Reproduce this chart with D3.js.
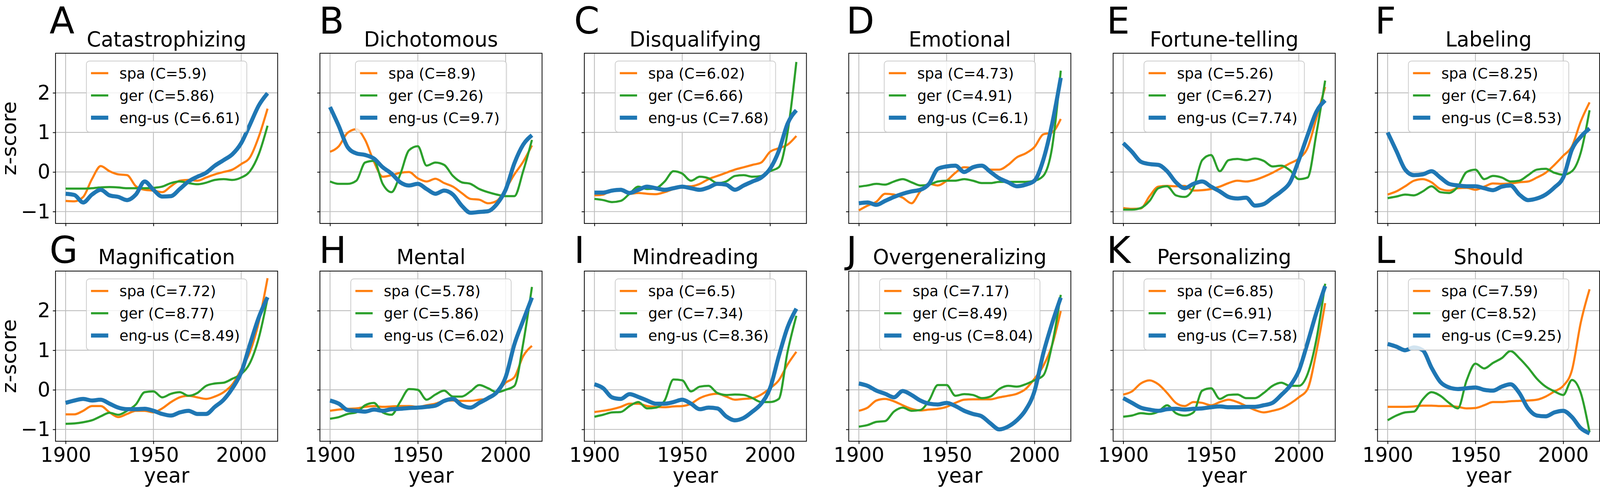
<!DOCTYPE html>
<html>
<head>
<meta charset="utf-8">
<script src="https://cdn.jsdelivr.net/npm/d3@7"></script>
<style>
  html, body { margin: 0; padding: 0; background: #fff; overflow: hidden; }
  svg { display: block; font-family: "DejaVu Sans", sans-serif; }
</style>
</head>
<body>
<div id="chart"></div>
<script>
// ---- data ----
const years = [1900, 1905, 1910, 1915, 1920, 1925, 1930, 1935, 1940, 1945, 1950, 1955,
               1960, 1965, 1970, 1975, 1980, 1985, 1990, 1995, 2000, 2005, 2010, 2015];

const titles = ['Catastrophizing', 'Dichotomous', 'Disqualifying', 'Emotional', 'Fortune-telling', 'Labeling',
                'Magnification', 'Mental', 'Mindreading', 'Overgeneralizing', 'Personalizing', 'Should'];
const letters = ['A', 'B', 'C', 'D', 'E', 'F', 'G', 'H', 'I', 'J', 'K', 'L'];
const langs = ['spa', 'ger', 'eng-us'];

const cSpa = [5.9, 8.9, 6.02, 4.73, 5.26, 8.25, 7.72, 5.78, 6.5, 7.17, 6.85, 7.59];
const cGer = [5.86, 9.26, 6.66, 4.91, 6.27, 7.64, 8.77, 5.86, 7.34, 8.49, 6.91, 8.52];
const cEng = [6.61, 9.7, 7.68, 6.1, 7.74, 8.53, 8.49, 6.02, 8.36, 8.04, 7.58, 9.25];

const spaSeries = [
  [-0.73,-0.74,-0.63,-0.18,0.15,0.02,-0.06,-0.08,-0.36,-0.45,-0.47,-0.51,-0.36,-0.22,-0.20,-0.22,-0.14,-0.06,0.0,0.06,0.20,0.37,0.89,1.60],
  [0.51,0.65,0.99,1.08,0.81,0.26,-0.12,-0.08,-0.02,0.0,-0.16,-0.24,-0.17,-0.28,-0.37,-0.53,-0.68,-0.70,-0.79,-0.73,-0.43,-0.06,0.26,0.67],
  [-0.59,-0.57,-0.45,-0.47,-0.55,-0.53,-0.55,-0.56,-0.51,-0.43,-0.36,-0.36,-0.30,-0.18,-0.10,-0.02,0.06,0.12,0.18,0.24,0.51,0.60,0.69,0.91],
  [-0.97,-0.85,-0.75,-0.55,-0.57,-0.65,-0.79,-0.49,-0.30,-0.34,-0.22,-0.02,0.12,0.10,0.16,0.06,0.06,0.18,0.37,0.47,0.63,0.95,1.0,1.34],
  [-0.91,-0.93,-0.92,-0.61,-0.37,-0.35,-0.36,-0.35,-0.47,-0.46,-0.43,-0.37,-0.28,-0.22,-0.24,-0.20,-0.12,-0.02,0.10,0.22,0.34,0.61,1.36,2.15],
  [-0.57,-0.49,-0.36,-0.22,-0.18,-0.26,-0.43,-0.47,-0.41,-0.40,-0.45,-0.37,-0.29,-0.30,-0.29,-0.26,-0.24,-0.14,-0.02,0.18,0.41,0.65,1.28,1.76],
  [-0.62,-0.62,-0.53,-0.41,-0.41,-0.57,-0.69,-0.61,-0.53,-0.53,-0.57,-0.47,-0.31,-0.19,-0.15,-0.19,-0.23,-0.17,-0.06,0.14,0.52,0.96,1.71,2.82],
  [-0.53,-0.50,-0.48,-0.47,-0.43,-0.41,-0.43,-0.42,-0.41,-0.41,-0.43,-0.39,-0.35,-0.28,-0.27,-0.28,-0.28,-0.25,-0.23,-0.07,0.18,0.32,0.85,1.11],
  [-0.56,-0.53,-0.49,-0.43,-0.35,-0.35,-0.41,-0.43,-0.44,-0.42,-0.41,-0.35,-0.21,-0.13,-0.10,-0.17,-0.25,-0.23,-0.21,-0.12,0.04,0.24,0.64,0.96],
  [-0.53,-0.45,-0.27,-0.23,-0.29,-0.39,-0.48,-0.52,-0.50,-0.48,-0.43,-0.33,-0.25,-0.24,-0.24,-0.24,-0.19,-0.15,-0.10,0.02,0.28,0.60,1.12,1.99],
  [-0.12,-0.04,0.16,0.24,0.14,-0.08,-0.33,-0.41,-0.31,-0.33,-0.39,-0.31,-0.25,-0.31,-0.41,-0.51,-0.57,-0.53,-0.47,-0.35,-0.19,0.02,0.96,2.19],
  [-0.43,-0.43,-0.43,-0.42,-0.40,-0.40,-0.41,-0.41,-0.43,-0.47,-0.46,-0.39,-0.31,-0.31,-0.29,-0.28,-0.27,-0.25,-0.17,-0.04,0.10,0.50,1.70,2.54]
];

const gerSeries = [
  [-0.42,-0.42,-0.42,-0.41,-0.39,-0.38,-0.39,-0.41,-0.41,-0.41,-0.40,-0.37,-0.28,-0.24,-0.28,-0.31,-0.27,-0.20,-0.18,-0.20,-0.14,0.02,0.45,1.17],
  [-0.24,-0.30,-0.30,-0.22,0.24,0.28,-0.30,-0.51,-0.06,0.55,0.65,0.16,0.24,0.18,-0.10,-0.26,-0.30,-0.43,-0.51,-0.57,-0.61,-0.61,0.02,0.81],
  [-0.68,-0.71,-0.76,-0.73,-0.55,-0.37,-0.43,-0.41,-0.24,0.02,-0.04,-0.22,-0.12,-0.16,-0.28,-0.24,-0.10,-0.08,-0.12,-0.10,0.02,0.12,1.0,2.78],
  [-0.37,-0.34,-0.30,-0.32,-0.24,-0.18,-0.26,-0.34,-0.32,-0.24,-0.22,-0.22,-0.18,-0.22,-0.28,-0.28,-0.25,-0.25,-0.25,-0.25,-0.22,-0.10,0.60,2.56],
  [-0.95,-0.95,-0.91,-0.73,-0.41,-0.36,-0.59,-0.63,-0.40,0.30,0.43,0.02,0.30,0.33,0.30,0.34,0.28,0.14,0.16,0.04,-0.18,-0.14,0.97,2.31],
  [-0.66,-0.62,-0.57,-0.59,-0.49,-0.36,-0.51,-0.53,-0.37,0.0,0.06,-0.18,-0.10,-0.14,-0.24,-0.22,-0.08,0.06,0.08,-0.02,-0.07,0.02,0.49,1.56],
  [-0.86,-0.85,-0.82,-0.77,-0.67,-0.58,-0.63,-0.53,-0.37,-0.06,-0.04,-0.19,-0.10,-0.06,-0.15,-0.08,0.10,0.16,0.18,0.28,0.40,0.68,1.31,2.31],
  [-0.73,-0.69,-0.61,-0.57,-0.39,-0.33,-0.57,-0.63,-0.30,0.02,0.0,-0.25,-0.12,-0.02,-0.17,-0.17,-0.04,0.12,0.04,-0.06,0.0,0.10,1.17,2.60],
  [-0.68,-0.63,-0.57,-0.56,-0.41,-0.31,-0.47,-0.45,-0.27,0.26,0.24,-0.04,0.08,0.10,-0.08,-0.13,-0.12,-0.13,-0.21,-0.31,-0.31,-0.23,0.96,1.87],
  [-0.93,-0.89,-0.81,-0.79,-0.55,-0.45,-0.53,-0.51,-0.27,0.12,0.12,-0.15,-0.11,-0.13,-0.21,-0.17,0.02,0.10,0.08,0.14,0.24,0.36,1.12,2.40],
  [-0.68,-0.65,-0.59,-0.61,-0.55,-0.39,-0.59,-0.65,-0.57,-0.02,0.04,-0.23,-0.13,-0.12,-0.21,-0.21,-0.08,0.10,0.18,0.10,0.10,0.40,1.27,2.68],
  [-0.77,-0.65,-0.57,-0.55,-0.24,-0.06,-0.15,-0.33,-0.47,0.24,0.66,0.54,0.68,0.80,0.98,0.80,0.56,0.28,0.08,-0.04,-0.13,0.25,-0.08,-1.07]
];

const engSeries = [
  [-0.55,-0.58,-0.77,-0.57,-0.45,-0.59,-0.63,-0.71,-0.57,-0.24,-0.45,-0.62,-0.61,-0.43,-0.24,-0.12,-0.02,0.16,0.30,0.45,0.73,1.20,1.68,1.99],
  [1.64,1.16,0.63,0.47,0.43,0.34,0.12,-0.04,-0.26,-0.34,-0.30,-0.43,-0.55,-0.47,-0.57,-0.85,-1.03,-1.01,-0.99,-0.81,-0.45,0.22,0.69,0.93],
  [-0.52,-0.52,-0.47,-0.45,-0.53,-0.45,-0.37,-0.41,-0.45,-0.41,-0.37,-0.41,-0.45,-0.39,-0.30,-0.32,-0.45,-0.34,-0.24,-0.14,0.08,0.53,1.22,1.56],
  [-0.79,-0.77,-0.83,-0.73,-0.63,-0.55,-0.49,-0.45,-0.30,0.08,0.14,0.16,0.0,0.12,0.16,0.0,-0.16,-0.26,-0.36,-0.32,-0.22,0.30,1.20,2.38],
  [0.73,0.51,0.26,0.20,0.18,0.02,-0.26,-0.41,-0.30,-0.24,-0.37,-0.49,-0.63,-0.67,-0.65,-0.85,-0.81,-0.65,-0.49,-0.26,0.30,0.93,1.52,1.81],
  [1.0,0.53,0.06,-0.08,-0.06,0.02,-0.14,-0.30,-0.34,-0.36,-0.36,-0.41,-0.46,-0.37,-0.34,-0.57,-0.71,-0.67,-0.57,-0.39,-0.14,0.57,0.89,1.10],
  [-0.33,-0.27,-0.23,-0.27,-0.25,-0.35,-0.45,-0.49,-0.49,-0.48,-0.53,-0.61,-0.65,-0.57,-0.53,-0.61,-0.61,-0.43,-0.25,0.04,0.44,1.15,1.83,2.34],
  [-0.27,-0.35,-0.51,-0.53,-0.55,-0.50,-0.53,-0.49,-0.48,-0.46,-0.45,-0.43,-0.40,-0.28,-0.23,-0.39,-0.45,-0.33,-0.21,-0.06,0.32,1.15,1.75,2.33],
  [0.14,0.04,-0.19,-0.23,-0.11,-0.18,-0.27,-0.35,-0.35,-0.31,-0.25,-0.35,-0.49,-0.45,-0.47,-0.67,-0.77,-0.71,-0.55,-0.35,0.04,0.85,1.58,2.05],
  [0.16,0.10,-0.02,-0.10,-0.19,-0.03,-0.13,-0.27,-0.35,-0.37,-0.33,-0.41,-0.53,-0.61,-0.67,-0.85,-1.0,-0.93,-0.77,-0.51,-0.04,0.91,1.67,2.33],
  [-0.21,-0.33,-0.45,-0.50,-0.53,-0.49,-0.48,-0.50,-0.48,-0.47,-0.44,-0.42,-0.44,-0.44,-0.43,-0.43,-0.39,-0.33,-0.13,0.10,0.48,1.19,1.95,2.62],
  [1.16,1.09,1.0,1.07,1.0,0.56,0.20,0.06,0.02,0.04,0.06,0.0,-0.02,0.08,0.14,-0.08,-0.47,-0.65,-0.67,-0.57,-0.53,-0.69,-0.97,-1.10]
];

const xTicks = [1900, 1950, 2000];
const yTicks = [-1, 0, 1, 2];

// ---- layout (drawn in a 4167x1249 frame, fitted to the window) ----
const W = 4167, H = 1249;
const plotW = 578.5, plotH = 435.6;
const colLeft = col => 144.6 + col * 688.6;
const rowTop = [136.3, 693.8];
const letterX = [129, 831, 1495, 2204, 2882, 3581];
const letterY = [86, 673];
const colors = ['#ff7f0e', '#2ca02c', '#1f77b4'];
const lineWidths = [5.5, 5.5, 10.5];

const svg = d3.select('#chart')
    .append('svg')
    .attr('width', window.innerWidth || W)
    .attr('height', window.innerHeight || H)
    .attr('viewBox', `0 0 ${W} ${H}`)
    .attr('preserveAspectRatio', 'none')
    .style('background', '#fff');

const x = d3.scaleLinear().domain([1894.25, 2020.75]).range([0, plotW]);
const y = d3.scaleLinear().domain([-1.3, 3.0]).range([plotH, 0]);

const line = d3.line()
    .x((d, j) => x(years[j]))
    .y(d => y(d))
    .curve(d3.curveMonotoneX);

const minus = d => (d < 0 ? '\u2212' + Math.abs(d) : String(d));

titles.forEach((title, i) => {
    const col = i % 6, row = Math.floor(i / 6);
    const g = svg.append('g')
        .attr('transform', `translate(${colLeft(col)},${rowTop[row]})`);

    // grid
    g.selectAll('.vgrid').data(xTicks).join('line')
        .attr('x1', d => x(d)).attr('x2', d => x(d))
        .attr('y1', 0).attr('y2', plotH)
        .attr('stroke', '#bdbdbd').attr('stroke-width', 2.2);
    g.selectAll('.hgrid').data(yTicks).join('line')
        .attr('x1', 0).attr('x2', plotW)
        .attr('y1', d => y(d)).attr('y2', d => y(d))
        .attr('stroke', '#bdbdbd').attr('stroke-width', 2.2);

    // series, in legend order so eng-us sits on top
    const series = [spaSeries[i], gerSeries[i], engSeries[i]];
    series.forEach((vals, k) => {
        g.append('path')
            .datum(vals)
            .attr('d', line)
            .attr('fill', 'none')
            .attr('stroke', colors[k])
            .attr('stroke-width', lineWidths[k])
            .attr('stroke-linejoin', 'round');
    });

    // axes
    const xAxis = d3.axisBottom(x).tickValues(xTicks).tickSize(7).tickSizeOuter(0).tickPadding(9)
        .tickFormat(row === 1 ? d3.format('d') : () => '');
    const gx = g.append('g').attr('transform', `translate(0,${plotH})`).call(xAxis);
    const yAxis = d3.axisLeft(y).tickValues(yTicks).tickSize(7).tickSizeOuter(0).tickPadding(6.6)
        .tickFormat(col === 0 ? minus : () => '');
    const gy = g.append('g').call(yAxis);
    [gx, gy].forEach(a => {
        a.select('.domain').remove();
        a.selectAll('.tick line').attr('stroke', '#000').attr('stroke-width', 2);
        a.selectAll('.tick text')
            .attr('fill', '#000')
            .style('font-size', '52px')
            .style('font-family', '"DejaVu Sans", sans-serif');
    });

    // frame
    g.append('rect')
        .attr('width', plotW).attr('height', plotH)
        .attr('fill', 'none').attr('stroke', '#000').attr('stroke-width', 2);

    // legend, upper center
    const lg = g.append('g');
    const box = lg.append('rect')
        .attr('y', 20).attr('height', 182)
        .attr('rx', 8).attr('ry', 8)
        .attr('fill', '#fff').attr('fill-opacity', 0.8)
        .attr('stroke', '#cccccc').attr('stroke-width', 2);
    const cs = [cSpa[i], cGer[i], cEng[i]];
    const rows = [31, 88, 145];
    let maxW = 0;
    langs.forEach((lang, k) => {
        lg.append('line')
            .attr('x1', 12).attr('x2', 57)
            .attr('y1', 20 + rows[k]).attr('y2', 20 + rows[k])
            .attr('stroke', colors[k]).attr('stroke-width', lineWidths[k]);
        const t = lg.append('text')
            .attr('x', 86)
            .attr('y', 20 + rows[k])
            .attr('dy', '0.35em')
            .style('font-size', '38px')
            .text(`${lang} (C=${cs[k]})`);
        maxW = Math.max(maxW, t.node().getComputedTextLength());
    });
    const legW = 86 + maxW + 18;
    box.attr('width', legW);
    lg.attr('transform', `translate(${(plotW - legW) / 2},0)`);

    // title
    g.append('text')
        .attr('x', plotW / 2).attr('y', -17.5)
        .attr('text-anchor', 'middle')
        .style('font-size', '53px')
        .text(title);

    // axis labels
    if (col === 0) {
        g.append('text')
            .attr('transform', `translate(${42 - colLeft(col)},${plotH / 2}) rotate(-90)`)
            .attr('text-anchor', 'middle')
            .style('font-size', '53px')
            .text('z-score');
    }
    if (row === 1) {
        g.append('text')
            .attr('x', plotW / 2).attr('y', 1235 - rowTop[row])
            .attr('text-anchor', 'middle')
            .style('font-size', '53px')
            .text('year');
    }

    // panel letter
    svg.append('text')
        .attr('x', letterX[col]).attr('y', letterY[row])
        .style('font-size', '95px')
        .text(letters[i]);
});
</script>
</body>
</html>
